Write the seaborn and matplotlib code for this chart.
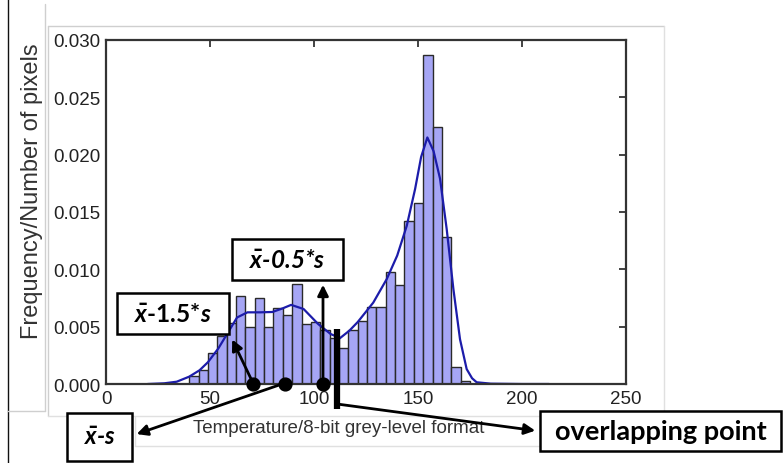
import numpy as np
import pandas as pd
import matplotlib
matplotlib.use("Agg")
import matplotlib.pyplot as plt
from matplotlib.patches import Rectangle, FancyArrowPatch
from matplotlib.lines import Line2D
import seaborn as sns

# ---------------- data ----------------
bin_lo, bin_hi, n_bins = 40.0, 175.0, 30
bar_heights = [0.00067, 0.00122, 0.0027, 0.0042, 0.0053, 0.00765, 0.0050, 0.0075,
               0.0050, 0.0066, 0.00605, 0.0087, 0.0052, 0.0054, 0.0047, 0.0040,
               0.0031, 0.0047, 0.0055, 0.0067, 0.0067, 0.0098, 0.0086, 0.0142,
               0.0158, 0.0287, 0.0224, 0.0128, 0.0015, 0.00026]

kde_x = [20, 28, 34, 40, 45, 49, 54, 59, 63, 68, 74, 80, 85, 89, 95, 102, 108,
         112.5, 117, 121, 128.5, 135, 140, 144.6, 148.6, 151.5, 154.5, 157.5,
         160.6, 163.8, 167, 170.2, 173.4, 176, 178.2, 185, 200, 213]
kde_y = [0.0, 0.00006, 0.0002, 0.00064, 0.0012, 0.0019, 0.0031, 0.0046, 0.0058,
         0.00625, 0.00625, 0.00628, 0.0066, 0.0069, 0.00654, 0.00523, 0.00436,
         0.0040, 0.00465, 0.0054, 0.0071, 0.00916, 0.0112, 0.0138, 0.0170,
         0.0198, 0.0215, 0.0203, 0.0179, 0.0135, 0.0083, 0.0039, 0.0013,
         0.0005, 0.00015, 0.00003, 0.0, 0.0]

marker_x = [70.8, 86.1, 104.5]          # x̄-1.5*s, x̄-s, x̄-0.5*s
overlap_x = 111.0                        # overlapping point
x_ticks = [0, 50, 100, 150, 200, 250]
y_ticks = [0.000, 0.005, 0.010, 0.015, 0.020, 0.025, 0.030]
x_label = "Temperature/8-bit grey-level format"
y_label = "Frequency/Number of pixels"
box_labels = [r"$\bar{x}$-0.5*s", r"$\bar{x}$-1.5*$s$", r"$\bar{x}$-s", "overlapping point"]

# ---------------- figure ----------------
sns.set_theme(style="white")
plt.rcParams["font.family"] = ["Liberation Sans", "DejaVu Sans"]
plt.rcParams["mathtext.fontset"] = "custom"
plt.rcParams["mathtext.it"] = "Lato:bold:italic"
plt.rcParams["mathtext.rm"] = "Lato:bold"
plt.rcParams["mathtext.bf"] = "Lato:bold"

W, H = 784, 464
fig = plt.figure(figsize=(W / 100, H / 100), dpi=100)
fig.patch.set_facecolor("white")

def fx(px):
    return px / W

def fy(py):
    return 1 - py / H

ax = fig.add_axes([fx(106), fy(385), fx(626) - fx(106), fy(41) - fy(385)])

bin_w = (bin_hi - bin_lo) / n_bins
centers = bin_lo + bin_w * (np.arange(n_bins) + 0.5)
df = pd.DataFrame({"temp": centers, "h": bar_heights})
sns.histplot(data=df, x="temp", weights="h", binwidth=bin_w, binrange=(bin_lo, bin_hi),
             stat="count", color="#9d9df4", alpha=0.9, edgecolor="#2a2a2a",
             linewidth=1.0, ax=ax)
kdf = pd.DataFrame({"x": kde_x, "y": kde_y})
sns.lineplot(data=kdf, x="x", y="y", color="#1c1caa", linewidth=1.6, ax=ax)

ax.set_xlim(0, 250)
ax.set_ylim(0, 0.030)
ax.set_xticks(x_ticks)
ax.set_yticks(y_ticks)
ax.set_yticklabels([f"{v:.3f}" for v in y_ticks])
ax.tick_params(direction="in", length=5, width=1.2, top=True, right=True,
               labelsize=13.5, colors="#222222", pad=4)
for s in ax.spines.values():
    s.set_color("#333333")
    s.set_linewidth(1.6)
ax.set_xlabel("")
ax.set_ylabel("")
fig.text(fx(32), fy(191), y_label, rotation=90, ha="center", va="center",
         fontsize=17, color="#333333")
fig.text(fx(339), fy(429), x_label, ha="center", va="center",
         fontsize=13.5, color="#333333")

# markers (data coords)
ax.scatter(marker_x, [0.0] * len(marker_x), s=85, color="black", zorder=10, clip_on=False)
ax.plot([overlap_x, overlap_x], [0.0048, -0.0022], color="black", linewidth=4.5,
        zorder=10, clip_on=False, solid_capstyle="butt")

# light frames of the pasted picture
for (x0, y0, x1, y1, c) in [(8, 0, 8, 464, "#111111"),
                            (45, 5, 45, 412, "#cfcfcf"),
                            (8, 412, 45, 412, "#cfcfcf"),
                            (48, 27, 664, 27, "#cfcfcf"),
                            (48, 27, 48, 417, "#cfcfcf"),
                            (48, 417, 664, 417, "#e0e0e0"),
                            (664, 27, 664, 417, "#e0e0e0"),
                            (135, 417, 135, 447, "#e0e0e0"),
                            (135, 447, 540, 447, "#e0e0e0")]:
    fig.add_artist(Line2D([fx(x0), fx(x1)], [fy(y0), fy(y1)], color=c, linewidth=1.0))

# boxes: (x0, y0, x1, y1, fontsize, style)
boxes = [(232, 240, 343, 281, 17.5, "italic"), (117, 294, 229, 335, 17.5, "normal"),
         (67, 414, 132, 462, 17, "italic"), (540, 412, 781, 452, 19.5, "normal")]
for (x0, y0, x1, y1, fs, st), lab in zip(boxes, box_labels):
    fig.add_artist(Rectangle((fx(x0), fy(y1)), fx(x1) - fx(x0), fy(y0) - fy(y1),
                             transform=fig.transFigure, facecolor="white",
                             edgecolor="black", linewidth=1.8, zorder=20))
    fig.text(fx((x0 + x1) / 2), fy((y0 + y1) / 2), lab, ha="center", va="center",
             fontsize=fs, fontfamily="Lato", fontweight="bold", fontstyle=st,
             color="black", zorder=21)

# arrows (figure pixels)
arrows = [((253, 384), (231, 338)), ((323, 384), (323, 283)),
          ((285, 384), (134, 436)), ((337, 405), (538, 432))]
for (a, b) in arrows:
    fig.add_artist(FancyArrowPatch((fx(a[0]), fy(a[1])), (fx(b[0]), fy(b[1])),
                                   transform=fig.transFigure, arrowstyle="-|>",
                                   mutation_scale=16, linewidth=2.0, color="black",
                                   zorder=15))

fig.savefig("out.png", dpi=100)
